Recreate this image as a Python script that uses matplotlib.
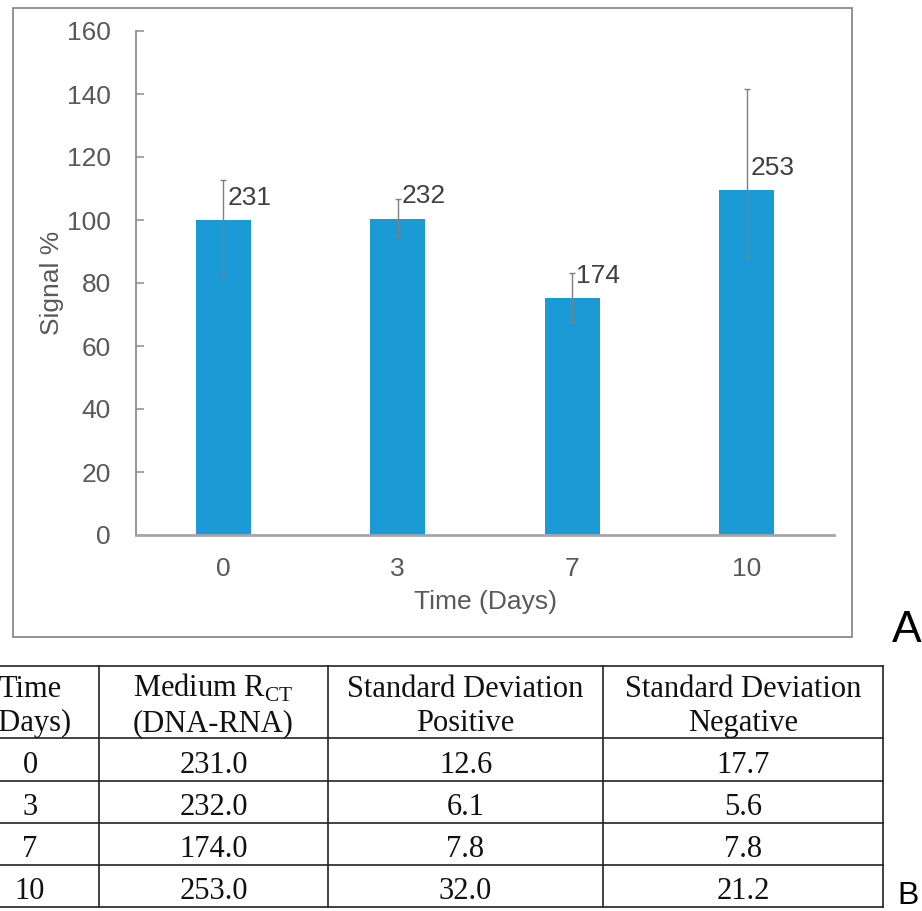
import numpy as np
import matplotlib
matplotlib.use('Agg')
import matplotlib.pyplot as plt
from matplotlib.lines import Line2D
from matplotlib.patches import Rectangle

# Time points and measured charge-transfer resistance (DNA-RNA)
days = ['0', '3', '7', '10']
rct = [231.0, 232.0, 174.0, 253.0]
sd_pos = [12.6, 6.1, 7.8, 32.0]
sd_neg = [17.7, 5.6, 7.8, 21.2]

header = [('Time', '(Days)'),
          (r'Medium R$_{\mathrm{CT}}$', '(DNA-RNA)'),
          ('Standard Deviation', 'Positive'),
          ('Standard Deviation', 'Negative')]

W, H = 922, 911
plt.rcParams['font.family'] = ['Liberation Sans', 'DejaVu Sans']
plt.rcParams['mathtext.fontset'] = 'custom'
plt.rcParams['mathtext.rm'] = 'Liberation Serif'

BLUE = '#1b9bd6'
GREY_TXT = '#595959'
GREY_LINE = '#8c8c8c'


def fx(x):
    return x / W


def fy(y):
    return 1 - y / H


fig = plt.figure(figsize=(W / 100, H / 100), dpi=100)

# signal relative to day 0
signal = np.array(rct) / rct[0] * 100
x = np.arange(len(days))

ax = fig.add_axes([fx(136), fy(535), fx(834) - fx(136), fy(31) - fy(535)])
ax.bar(x, signal, width=0.315, color=BLUE, zorder=2)
ax.errorbar(x, signal, yerr=[sd_neg, sd_pos], fmt='none', ecolor='#7f7f7f',
            elinewidth=1.0, capsize=2.5, capthick=1.0, zorder=3)
for xi, s, v in zip(x, signal, rct):
    ax.annotate('%d' % v, xy=(xi, s), xytext=(3, 16), textcoords='offset points',
                ha='left', va='center', fontsize=19, color='#404040')

ax.set_xlim(-0.5, 3.5)
ax.set_ylim(0, 160)
ax.set_yticks(np.arange(0, 161, 20))
ax.set_xticks(x)
ax.set_xticklabels(days)
for s in ['top', 'right']:
    ax.spines[s].set_visible(False)
ax.spines['left'].set_color(GREY_LINE)
ax.spines['left'].set_linewidth(1.3)
ax.spines['bottom'].set_color('#a6a6a6')
ax.spines['bottom'].set_linewidth(2.0)
ax.tick_params(axis='y', direction='in', length=6, width=1.1, color=GREY_LINE,
               labelsize=19, labelcolor=GREY_TXT, pad=18)
ax.tick_params(axis='x', length=0, labelsize=19, labelcolor=GREY_TXT, pad=16)
ax.set_xlabel('Time (Days)', fontsize=19, color=GREY_TXT, labelpad=6)
ax.set_ylabel('Signal %', fontsize=19, color=GREY_TXT, labelpad=2)

# frame round the chart
fig.add_artist(Rectangle((fx(13), fy(637)), fx(852) - fx(13), fy(8) - fy(637),
                         transform=fig.transFigure, fill=False,
                         edgecolor='#8a8a8a', linewidth=1.3))
fig.text(fx(907), fy(642), 'A', fontsize=32, ha='center', va='baseline', color='black')

# table below
rows_y = [666, 738, 781, 823, 865, 907]
cols_x = [-39, 99, 328, 603, 883]
for y in rows_y:
    fig.add_artist(Line2D([fx(cols_x[0]), fx(cols_x[-1])], [fy(y), fy(y)],
                          transform=fig.transFigure, color='#222222', lw=1.2))
for xc in cols_x[1:]:
    fig.add_artist(Line2D([fx(xc), fx(xc)], [fy(rows_y[0]), fy(rows_y[-1])],
                          transform=fig.transFigure, color='#222222', lw=1.2))

centers = [(cols_x[i] + cols_x[i + 1]) / 2 for i in range(4)]
centers[0] = 30
tkw = dict(family='Liberation Serif', fontsize=22, ha='center', va='baseline',
           color='#111111')
for c, (l1, l2) in zip(centers, header):
    fig.text(fx(c), fy(697), l1, **tkw)
    fig.text(fx(c), fy(731), l2, **tkw)

baselines = [773, 815, 857, 899]
for b, d, r, p, n in zip(baselines, days, rct, sd_pos, sd_neg):
    cells = [d, '%.1f' % r, '%.1f' % p, '%.1f' % n]
    for c, t in zip(centers, cells):
        fig.text(fx(c), fy(b), t, **tkw)

fig.text(fx(908), fy(904), 'B', fontsize=23, ha='center', va='baseline', color='black')

fig.savefig('out.png', dpi=100)
